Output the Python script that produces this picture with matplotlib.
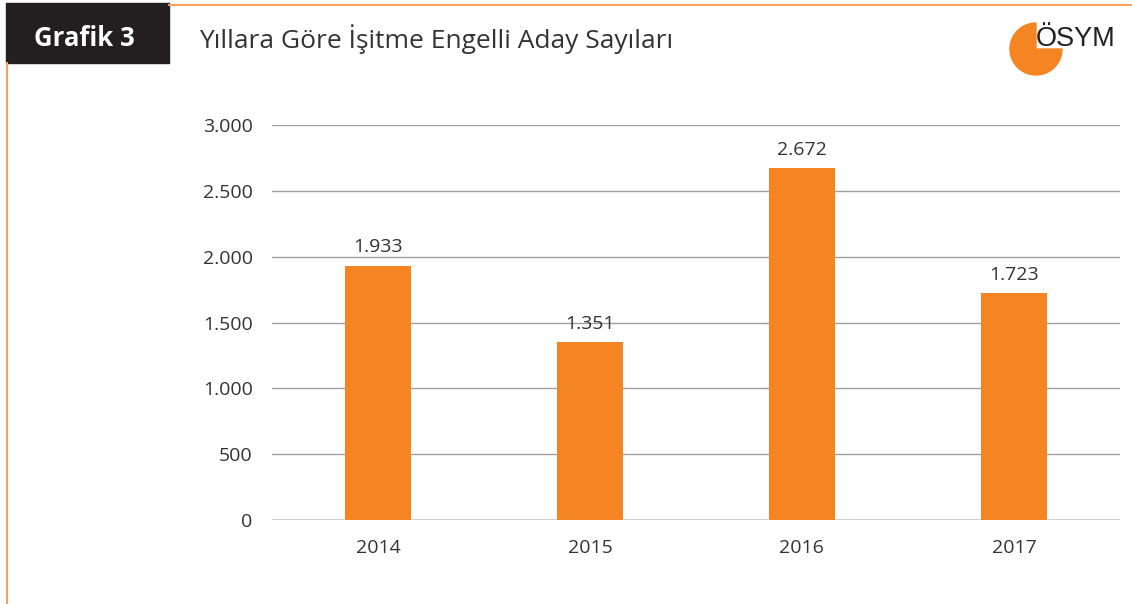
import matplotlib.pyplot as plt
from matplotlib.patches import Rectangle, Wedge

years = ["2014", "2015", "2016", "2017"]
counts = [1933, 1351, 2672, 1723]
y_ticks = [0, 500, 1000, 1500, 2000, 2500, 3000]
y_tick_labels = ["0", "500", "1.000", "1.500", "2.000", "2.500", "3.000"]

ORANGE = "#F58423"
TEXT = "#333333"

plt.rcParams["font.family"] = ["Open Sans", "DejaVu Sans"]

fig = plt.figure(figsize=(11.32, 6.04), dpi=100)

# frame decorations drawn in pixel coords on a full-figure overlay
deco = fig.add_axes([0, 0, 1, 1])
deco.set_xlim(0, 1132)
deco.set_ylim(604, 0)
deco.axis("off")
deco.add_patch(Rectangle((6, 3), 163, 60, color="#231F20"))
deco.plot([169, 1132], [5, 5], color="#F7A25A", lw=1.5)
deco.plot([7, 7], [63, 604], color="#F7A25A", lw=1.5)
deco.text(84, 38, "Grafik 3", color="white", fontsize=18.5, fontweight="bold",
          ha="center", va="center")
deco.text(199, 39, "Yıllara Göre İşitme Engelli Aday Sayıları", color=TEXT,
          fontsize=19, ha="left", va="center")
# y axis is flipped here, so 0..270 leaves the upper-right quarter open
deco.add_patch(Wedge((1036, 49), 26, 0, 270, color=ORANGE))
deco.text(1036, 39, "ÖSYM", family="Liberation Sans", fontsize=19.5,
          color="#222222", ha="left", va="center")

# the bar chart itself
ax = fig.add_axes([0.2403, 0.139, 0.749, 0.654])
x = range(len(years))
bars = ax.bar(x, counts, width=0.31, color=ORANGE, zorder=3)
for rect, v in zip(bars, counts):
    ax.text(rect.get_x() + rect.get_width() / 2, v + 70, f"{v:,}".replace(",", "."),
            ha="center", va="bottom", fontsize=14, color=TEXT)

ax.set_xlim(-0.5, len(years) - 0.5)
ax.set_ylim(0, 3000)
ax.set_yticks(y_ticks)
ax.set_yticklabels(y_tick_labels)
ax.set_xticks(list(x))
ax.set_xticklabels(years)
ax.tick_params(axis="both", length=0, labelsize=14, labelcolor=TEXT)
ax.tick_params(axis="y", pad=14)
ax.tick_params(axis="x", pad=14)
ax.yaxis.grid(True, color="#A0A0A0", lw=1, zorder=0)
for s in ax.spines.values():
    s.set_visible(False)
ax.axhline(0, color="#CCCCCC", lw=2, zorder=2)

plt.savefig("out.png", dpi=100)
plt.close()
